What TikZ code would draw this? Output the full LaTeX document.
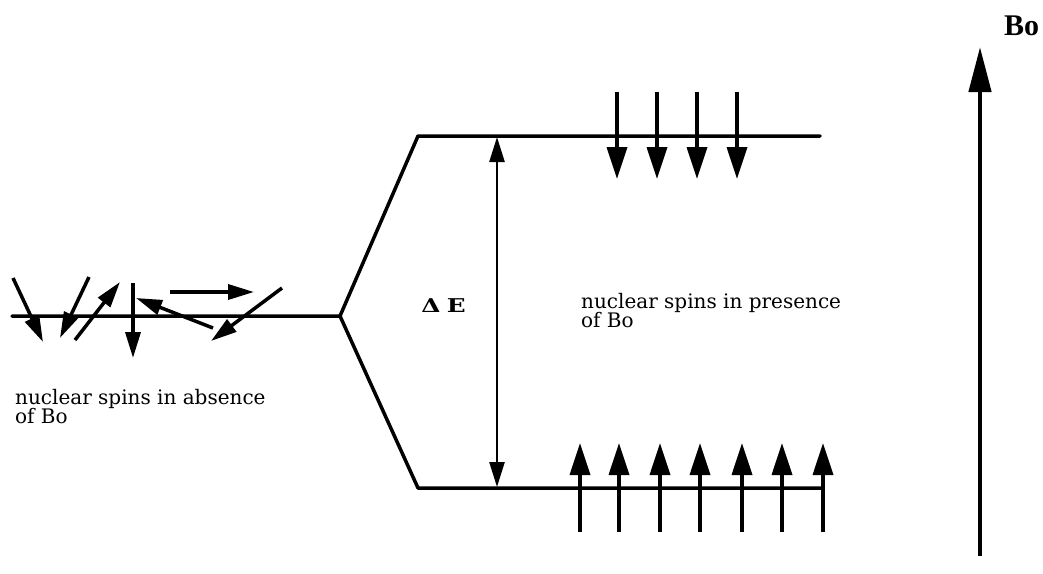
\documentclass[tikz,border=0pt]{standalone}
\usepackage{fontspec}
\setmainfont{Liberation Serif}
\newfontfamily\bodyfont{DejaVu Serif}
\usetikzlibrary{arrows.meta}
\newcommand{\twolines}[2]{\vbox{\baselineskip=19pt\lineskiplimit=-100pt\hbox{#1}\hbox{#2}}}
\begin{document}
\begin{tikzpicture}[x=1pt,y=-1pt,
  level/.style={line width=3.5pt, line cap=round, line join=round},
  bigspin/.style={line width=3.5pt, -{Triangle[length=32pt,width=20pt]}},
  smallspin/.style={line width=3.5pt, -{Triangle[length=26pt,width=15pt]}},
  gap/.style={line width=2.5pt, {Triangle[length=25pt,width=15pt]}-{Triangle[length=25pt,width=15pt]}},
  field/.style={line width=4.5pt, -{Triangle[length=45pt,width=22pt]}},
  lbl/.style={font=\bodyfont\fontsize{20}{19}\selectfont, inner sep=0pt, anchor=base west}]
\useasboundingbox (0,0) rectangle (1043,573);
% energy levels
\coordinate (L0) at (12,316);
\coordinate (S) at (340,316);
\coordinate (U1) at (418,136);
\coordinate (U2) at (820,136);
\coordinate (D1) at (418,488);
\coordinate (D2) at (822,488);
\draw[level] (L0) -- (S) -- (U1) -- (U2);
\draw[level] (S) -- (D1) -- (D2);
% Delta E
\coordinate (Et) at (497,137);
\coordinate (Eb) at (497,487);
\draw[gap] (Et) -- (Eb);
\node[font=\bodyfont\fontsize{19}{19}\selectfont\bfseries, xscale=1.3, anchor=base west, inner sep=0pt] (dE) at (421,312) {Δ\hspace{5pt}E};
% upper spins (down)
\foreach \x/\n in {617/a,657/b,697/c,737/d}{
  \coordinate (ut\n) at (\x,92);
  \coordinate (uh\n) at (\x,179);
  \draw[bigspin] (ut\n) -- (uh\n);
}
% lower spins (up)
\foreach \x/\n in {580/a,619/b,660/c,700/d,742/e,782/f,823/g}{
  \coordinate (lt\n) at (\x,532);
  \coordinate (lh\n) at (\x,443);
  \draw[bigspin] (lt\n) -- (lh\n);
}
% random spins
\coordinate (r1a) at (13,278); \coordinate (r1b) at (43,342);
\coordinate (r2a) at (89,277); \coordinate (r2b) at (60,338);
\coordinate (r3a) at (75,340); \coordinate (r3b) at (120,282);
\coordinate (r4a) at (133,283); \coordinate (r4b) at (133,358);
\coordinate (r5a) at (170,292); \coordinate (r5b) at (254,292);
\coordinate (r6a) at (213,328); \coordinate (r6b) at (136,298);
\coordinate (r7a) at (282,288); \coordinate (r7b) at (211,341);
\foreach \n in {1,...,7}{\draw[smallspin] (r\n a) -- (r\n b);}
% field arrow
\coordinate (Ba) at (980,556);
\coordinate (Bb) at (980,47);
\draw[field] (Ba) -- (Bb);
\node[font=\fontsize{30}{30}\selectfont\bfseries, anchor=base west, inner sep=0pt] (Bo) at (1004,35) {Bo};
% labels
\node[lbl] (absent) at (15,423) {\twolines{nuclear spins in absence}{of Bo}};
\node[lbl] (present) at (581,327) {\twolines{nuclear spins in presence}{of Bo}};
\end{tikzpicture}
\end{document}
